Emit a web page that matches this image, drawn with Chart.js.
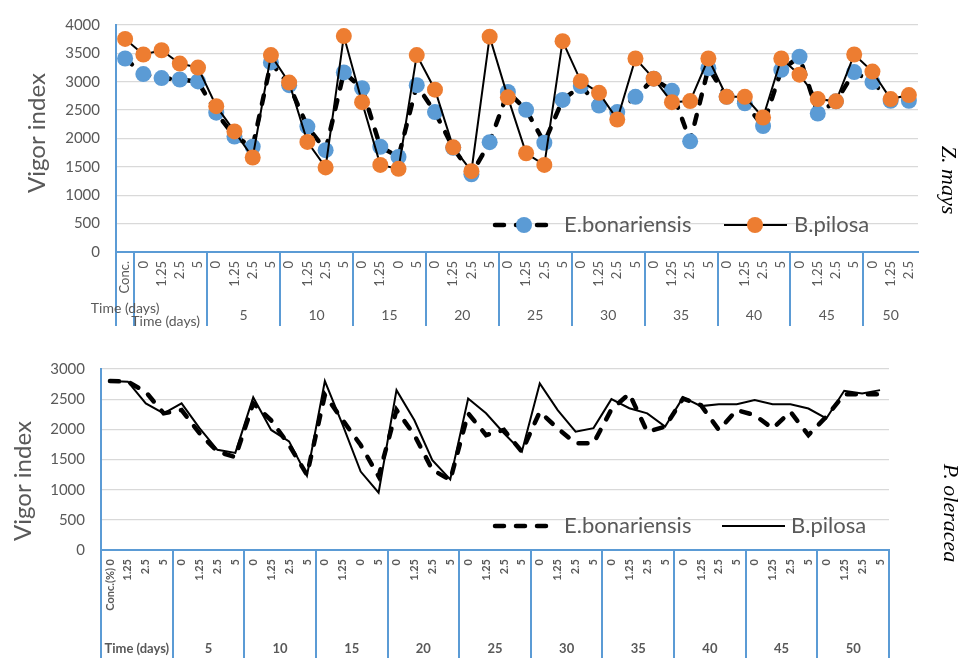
<!DOCTYPE html>
<html>
<head>
<meta charset="utf-8">
<title>Vigor index</title>
<script src="https://cdn.jsdelivr.net/npm/chart.js@4.4.1/dist/chart.umd.min.js"></script>
<style>
  html, body { margin: 0; padding: 0; background: #ffffff; }
  body { width: 961px; height: 658px; position: relative; overflow: hidden; }
  canvas { position: absolute; left: 0; }
  #zmays { top: 0; }
  #poleracea { top: 335px; }
</style>
</head>
<body>
<canvas id="zmays" width="961" height="335"></canvas>
<canvas id="poleracea" width="961" height="323"></canvas>
<script>
// ---------- Z. mays ----------
const zmaysTickLabels = [
  'Conc.',
  '0', '1.25', '2.5', '5',
  '0', '1.25', '2.5', '5',
  '0', '1.25', '2.5', '5',
  '0', '1.25', '0', '5',
  '0', '1.25', '2.5', '5',
  '0', '1.25', '2.5', '5',
  '0', '1.25', '2.5', '5',
  '0', '1.25', '2.5', '5',
  '0', '1.25', '2.5', '5',
  '0', '1.25', '2.5', '5',
  '0', '1.25', '2.5'
];
const zmaysGroupLabels = ['Time (days)', 'Time (days)', '5', '10', '15', '20', '25', '30', '35', '40', '45', '50'];
const zmaysGroupSizes = [1, 4, 4, 4, 4, 4, 4, 4, 4, 4, 4, 3];
const zmaysEbonariensis = [
  3410,
  3135, 3065, 3040, 3005,
  2455, 2035, 1855, 3340,
  2940, 2210, 1795, 3165,
  2885, 1855, 1675, 2940,
  2465, 1835, 1370, 1935,
  2820, 2505, 1925, 2680,
  2925, 2580, 2465, 2735,
  3055, 2840, 1950, 3240,
  2735, 2620, 2220, 3210,
  3440, 2440, 2655, 3170,
  2995, 2665, 2665
];
const zmaysBpilosa = [
  3755,
  3480, 3555, 3320, 3250,
  2570, 2125, 1665, 3470,
  2985, 1940, 1490, 3805,
  2640, 1535, 1465, 3470,
  2860, 1845, 1425, 3795,
  2725, 1740, 1535, 3715,
  3010, 2805, 2335, 3410,
  3055, 2640, 2660, 3410,
  2735, 2735, 2370, 3410,
  3125, 2695, 2655, 3480,
  3180, 2695, 2765
];

// ---------- P. oleracea ----------
const polTickLabels = [
  'Conc.(%) 0', '1.25', '2.5', '5',
  '0', '1.25', '2.5', '5',
  '0', '1.25', '2.5', '5',
  '0', '1.25', '0', '5',
  '0', '1.25', '2.5', '5',
  '0', '1.25', '2.5', '5',
  '0', '1.25', '2.5', '5',
  '0', '1.25', '2.5', '5',
  '0', '1.25', '2.5', '5',
  '0', '1.25', '2.5', '5',
  '0', '1.25', '2.5', '5'
];
const polGroupLabels = ['Time (days)', '5', '10', '15', '20', '25', '30', '35', '40', '45', '50'];
const polGroupSizes = [4, 4, 4, 4, 4, 4, 4, 4, 4, 4, 4];
const polEbonariensis = [
  2800, 2790, 2620, 2265,
  2320, 1935, 1630, 1540,
  2430, 2150, 1740, 1245,
  2570, 2150, 1740, 1220,
  2320, 1905, 1330, 1160,
  2265, 1905, 1990, 1630,
  2290, 2015, 1770, 1770,
  2330, 2590, 1960, 2045,
  2510, 2400, 1990, 2320,
  2235, 2015, 2290, 1905,
  2210, 2580, 2580, 2580
];
const polBpilosa = [
  2800, 2790, 2430, 2265,
  2430, 2020, 1660, 1610,
  2530, 1990, 1800, 1230,
  2800, 2070, 1300, 950,
  2650, 2150, 1490, 1170,
  2510, 2265, 1935, 1630,
  2760, 2320, 1960, 2020,
  2500, 2350, 2265, 2045,
  2530, 2385, 2415, 2415,
  2485, 2415, 2415, 2345,
  2180, 2640, 2595, 2650
];

const TEXT = '#595959';
const AXIS = '#5B9BD5';
const GRID = '#D9D9D9';
const SANS = 'Lato, "Open Sans", sans-serif';

// Vertical separators and group captions under the category axis
const axisGroups = {
  id: 'axisGroups',
  afterDraw(chart, args, o) {
    const xs = chart.scales.x;
    const ctx = chart.ctx;
    const half = (xs.getPixelForValue(1) - xs.getPixelForValue(0)) / 2;
    ctx.save();
    ctx.strokeStyle = o.lineColor;
    ctx.lineWidth = o.lineWidth;
    const edges = [];
    let start = 0;
    o.sizes.forEach(n => { edges.push(start); start += n; });
    if (o.closeRight) edges.push(start);
    edges.forEach(i => {
      const px = Math.round(xs.getPixelForValue(i) - half);
      ctx.beginPath();
      ctx.moveTo(px, xs.top);
      ctx.lineTo(px, o.lineBottom);
      ctx.stroke();
    });
    ctx.fillStyle = o.color;
    ctx.font = o.font;
    ctx.textAlign = 'center';
    ctx.textBaseline = 'alphabetic';
    start = 0;
    o.sizes.forEach((n, g) => {
      const a = xs.getPixelForValue(start) - half;
      const b = xs.getPixelForValue(start + n - 1) + half;
      const adj = (o.shift && o.shift[g]) || {};
      const y = adj.y !== undefined ? adj.y : o.baseline;
      ctx.fillText(o.labels[g], (a + b) / 2 + (adj.dx || 0), y);
      start += n;
    });
    ctx.restore();
  }
};

// Legend drawn inside the plot, using each dataset's own line style
const inlineLegend = {
  id: 'inlineLegend',
  afterDraw(chart, args, o) {
    const ctx = chart.ctx;
    ctx.save();
    o.items.forEach(it => {
      const ds = chart.data.datasets[it.dataset];
      ctx.strokeStyle = ds.borderColor;
      ctx.lineWidth = ds.borderWidth;
      ctx.lineCap = ds.borderCapStyle || 'butt';
      ctx.setLineDash(ds.borderDash || []);
      ctx.beginPath();
      ctx.moveTo(it.x1, o.y);
      ctx.lineTo(it.x2, o.y);
      ctx.stroke();
      ctx.setLineDash([]);
      if (ds.pointRadius > 0) {
        ctx.fillStyle = ds.pointBackgroundColor;
        ctx.beginPath();
        ctx.arc(it.mx, o.y, ds.pointRadius, 0, Math.PI * 2);
        ctx.fill();
      }
      ctx.fillStyle = o.color;
      ctx.font = o.font;
      ctx.textAlign = 'left';
      ctx.textBaseline = 'middle';
      ctx.fillText(ds.label, it.textX, o.y);
    });
    ctx.restore();
  }
};

// Rotated captions: axis title and species name
const sideTexts = {
  id: 'sideTexts',
  afterDraw(chart, args, o) {
    const ctx = chart.ctx;
    o.items.forEach(t => {
      ctx.save();
      ctx.translate(t.x, t.y);
      ctx.rotate(t.angle);
      ctx.font = t.font;
      ctx.fillStyle = t.color;
      ctx.textAlign = 'center';
      ctx.textBaseline = 'middle';
      ctx.fillText(t.text, 0, 0);
      ctx.restore();
    });
  }
};

function makeChart(el, cfg) {
  return new Chart(el, {
    type: 'line',
    data: {
      labels: cfg.labels,
      datasets: [
        {
          label: 'E.bonariensis',
          data: cfg.ebon,
          borderColor: '#000000',
          borderWidth: 4.5,
          borderDash: [9, 12],
          borderCapStyle: 'round',
          pointRadius: cfg.markers ? 8 : 0,
          pointHoverRadius: 0,
          pointBorderWidth: 0,
          pointBackgroundColor: '#5B9BD5',
          pointBorderColor: '#5B9BD5',
          tension: 0,
          order: 1
        },
        {
          label: 'B.pilosa',
          data: cfg.bpil,
          borderColor: '#000000',
          borderWidth: 2,
          pointRadius: cfg.markers ? 8 : 0,
          pointHoverRadius: 0,
          pointBorderWidth: 0,
          pointBackgroundColor: '#ED7D31',
          pointBorderColor: '#ED7D31',
          tension: 0,
          order: 0
        }
      ]
    },
    plugins: [axisGroups, inlineLegend, sideTexts],
    options: {
      responsive: false,
      animation: false,
      devicePixelRatio: 1,
      events: [],
      layout: { padding: { top: cfg.padTop, right: cfg.padRight, left: 0, bottom: 0 } },
      plugins: {
        legend: { display: false },
        tooltip: { enabled: false },
        axisGroups: cfg.groups,
        inlineLegend: cfg.legend,
        sideTexts: { items: cfg.texts }
      },
      scales: {
        x: {
          type: 'category',
          offset: true,
          grid: { display: false, drawTicks: false },
          border: { display: true, color: AXIS, width: 2 },
          ticks: {
            autoSkip: false,
            minRotation: 90,
            maxRotation: 90,
            padding: cfg.xPad,
            color: TEXT,
            font: cfg.xFont
          },
          afterFit(s) { s.height = cfg.xHeight; }
        },
        y: {
          min: 0,
          max: cfg.yMax,
          ticks: {
            stepSize: 500,
            padding: 16,
            color: TEXT,
            font: { family: SANS, size: 15 },
            callback: v => String(v)
          },
          grid: {
            color: c => (c.tick && c.tick.value === 0 ? 'rgba(0,0,0,0)' : GRID),
            lineWidth: 1.3,
            drawTicks: false
          },
          border: { display: true, color: AXIS, width: 2 },
          afterFit(s) { s.width = cfg.yWidth; }
        }
      }
    }
  });
}

makeChart(document.getElementById('zmays'), {
  labels: zmaysTickLabels,
  ebon: zmaysEbonariensis,
  bpil: zmaysBpilosa,
  markers: true,
  yMax: 4000,
  padTop: 19,
  padRight: 43,
  yWidth: 116,
  xHeight: 83,
  xPad: 9,
  xFont: { family: SANS, size: 13 },
  groups: {
    sizes: zmaysGroupSizes,
    labels: zmaysGroupLabels,
    lineColor: AXIS,
    lineWidth: 2,
    lineBottom: 326,
    closeRight: false,
    color: TEXT,
    font: '14px ' + SANS,
    baseline: 320,
    shift: { 0: { y: 313 }, 1: { y: 326, dx: -5 } }
  },
  legend: {
    y: 225,
    color: TEXT,
    font: '22px ' + SANS,
    items: [
      { dataset: 0, x1: 495, x2: 551, mx: 524, textX: 564 },
      { dataset: 1, x1: 724, x2: 787, mx: 755, textX: 794 }
    ]
  },
  texts: [
    { text: 'Vigor index', x: 37, y: 133, angle: -Math.PI / 2, font: '24px ' + SANS, color: TEXT },
    { text: 'Z. mays', x: 948, y: 180, angle: Math.PI / 2, font: 'italic 22px "Liberation Serif", serif', color: '#000000' }
  ]
});

makeChart(document.getElementById('poleracea'), {
  labels: polTickLabels,
  ebon: polEbonariensis,
  bpil: polBpilosa,
  markers: false,
  yMax: 3000,
  padTop: 34,
  padRight: 72,
  yWidth: 101,
  xHeight: 108,
  xPad: 9,
  xFont: { family: SANS, size: 11, weight: 'bold' },
  groups: {
    sizes: polGroupSizes,
    labels: polGroupLabels,
    lineColor: AXIS,
    lineWidth: 2,
    lineBottom: 323,
    closeRight: true,
    color: TEXT,
    font: 'bold 13px ' + SANS,
    baseline: 318
  },
  legend: {
    y: 191,
    color: TEXT,
    font: '22px ' + SANS,
    items: [
      { dataset: 0, x1: 495, x2: 550, mx: 522, textX: 564 },
      { dataset: 1, x1: 722, x2: 785, mx: 753, textX: 791 }
    ]
  },
  texts: [
    { text: 'Vigor index', x: 23, y: 146, angle: -Math.PI / 2, font: '24px ' + SANS, color: TEXT },
    { text: 'P. oleracea', x: 950, y: 178, angle: Math.PI / 2, font: 'italic 22px "Liberation Serif", serif', color: '#000000' }
  ]
});
</script>
</body>
</html>
